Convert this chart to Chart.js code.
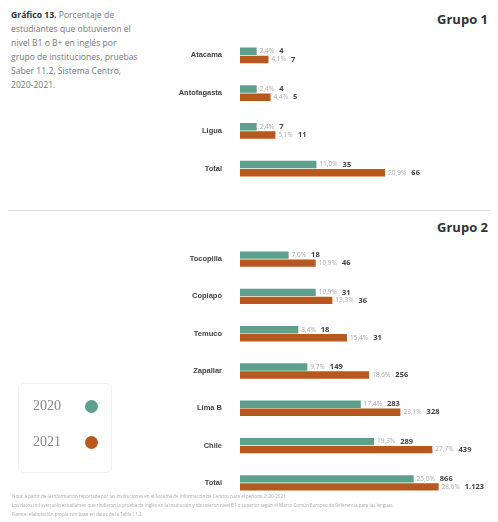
<!DOCTYPE html>
<html lang="es">
<head>
<meta charset="UTF-8">
<title>Gráfico 13</title>
<script src="https://cdn.jsdelivr.net/npm/chart.js"></script>
<style>
    body { margin: 0; background: #fff; font-family: 'Open Sans', 'DejaVu Sans', sans-serif; }
    .wrap { position: relative; width: 498px; height: 522px; overflow: hidden; }
    .title { position: absolute; left: 11px; top: 8px; width: 170px; font-size: 8.6px; line-height: 14px; color: #777; white-space: nowrap; }
    .title b { color: #333; }
    .group { position: absolute; right: 10px; font-size: 13px; font-weight: bold; color: #333; }
    .sep { position: absolute; left: 8px; right: 8px; top: 210px; border-top: 1px solid #ddd; }
    .legend { position: absolute; left: 18px; top: 383px; width: 92px; height: 88px; border: 1px solid #eee; border-radius: 6px; }
    .legend div { position: absolute; left: 14px; font-family: 'Liberation Serif', serif; font-size: 14px; color: #888; }
    .legend span { position: absolute; left: 52px; top: 2px; width: 13px; height: 13px; border-radius: 50%; }
    .foot { position: absolute; left: 12px; top: 492px; font-size: 4.5px; line-height: 9px; color: #aaa; width: 480px; }
    canvas { position: absolute; left: 0; }
</style>
</head>
<body>
<div class="wrap">
    <div class="title"><b>Gráfico 13.</b> Porcentaje de<br>estudiantes que obtuvieron el<br>nivel B1 o B+ en inglés por<br>grupo de instituciones, pruebas<br>Saber 11.2, Sistema Centro,<br>2020-2021.</div>
    <div class="group" style="top:10px">Grupo 1</div>
    <div class="sep"></div>
    <div class="group" style="top:218px">Grupo 2</div>
    <canvas id="g1" width="498" height="180" style="top:22px"></canvas>
    <canvas id="g2" width="498" height="290" style="top:226px"></canvas>
    <div class="legend">
        <div style="top:14px">2020<span style="background:#5e9f8d"></span></div>
        <div style="top:50px">2021<span style="background:#b7581f"></span></div>
    </div>
    <div class="foot">
        Nota: a partir de la información reportada por las instituciones en el Sistema de Información de Centros para el periodo 2020-2021.<br>
        Los datos incluyen sólo estudiantes que rindieron la prueba de inglés en la institución y obtuvieron nivel B1 o superior según el Marco Común Europeo de Referencia para las lenguas.<br>
        Fuente: elaboración propia con base en datos de la Tabla 11.2.
    </div>
</div>
<script>
const teal = '#5e9f8d';
const orange = '#b7581f';

const group1Labels = ['Atacama', 'Antofagasta', 'Ligua', 'Total'];
const g1Pct2020 = [2.4, 2.4, 2.4, 11.0];
const g1Pct2021 = [4.1, 4.4, 5.1, 20.9];
const g1N2020 = ['4', '4', '7', '35'];
const g1N2021 = ['7', '5', '11', '66'];

const group2Labels = ['Tocopilla', 'Copiapó', 'Temuco', 'Zapallar', 'Lima B', 'Chile', 'Total'];
const g2Pct2020 = [7.0, 10.9, 8.4, 9.7, 17.4, 19.3, 25.0];
const g2Pct2021 = [10.9, 13.3, 15.4, 18.6, 23.1, 27.7, 28.6];
const g2N2020 = ['18', '31', '18', '149', '283', '289', '866'];
const g2N2021 = ['46', '36', '31', '256', '328', '439', '1.123'];

const valueLabels = {
    id: 'valueLabels',
    afterDatasetsDraw(chart) {
        const ctx = chart.ctx;
        const counts = chart.options.plugins.valueLabels.counts;
        chart.data.datasets.forEach((ds, i) => {
            chart.getDatasetMeta(i).data.forEach((bar, j) => {
                const pct = ds.data[j].toFixed(1).replace('.', ',') + '%';
                ctx.save();
                ctx.textBaseline = 'middle';
                ctx.font = '6.5px "Open Sans", sans-serif';
                ctx.fillStyle = '#aaa';
                ctx.fillText(pct, bar.x + 3, bar.y);
                const w = ctx.measureText(pct).width;
                ctx.font = 'bold 7.5px "Open Sans", sans-serif';
                ctx.fillStyle = '#444';
                ctx.fillText(counts[i][j], bar.x + 3 + w + 5, bar.y);
                ctx.restore();
            });
        });
    }
};

function makeChart(id, labels, a, b, na, nb, top, bottom) {
    return new Chart(document.getElementById(id), {
        type: 'bar',
        data: {
            labels,
            datasets: [
                { data: a, backgroundColor: teal },
                { data: b, backgroundColor: orange }
            ]
        },
        options: {
            indexAxis: 'y',
            responsive: false,
            animation: false,
            layout: { padding: { left: 0, right: 8, top: top, bottom: bottom } },
            categoryPercentage: 0.43,
            barPercentage: 0.92,
            plugins: { legend: { display: false }, tooltip: { enabled: false }, valueLabels: { counts: [na, nb] } },
            scales: {
                x: { display: false, min: 0, max: 36 },
                y: {
                    afterFit: s => { s.width = 240; },
                    grid: { display: false },
                    border: { display: false },
                    ticks: { color: '#444', font: { size: 7.5, weight: 'bold' }, padding: 10 }
                }
            }
        },
        plugins: [valueLabels]
    });
}

makeChart('g1', group1Labels, g1Pct2020, g1Pct2021, g1N2020, g1N2021, 12, 12);
makeChart('g2', group2Labels, g2Pct2020, g2Pct2021, g2N2020, g2N2021, 4, 0);
</script>
</body>
</html>
